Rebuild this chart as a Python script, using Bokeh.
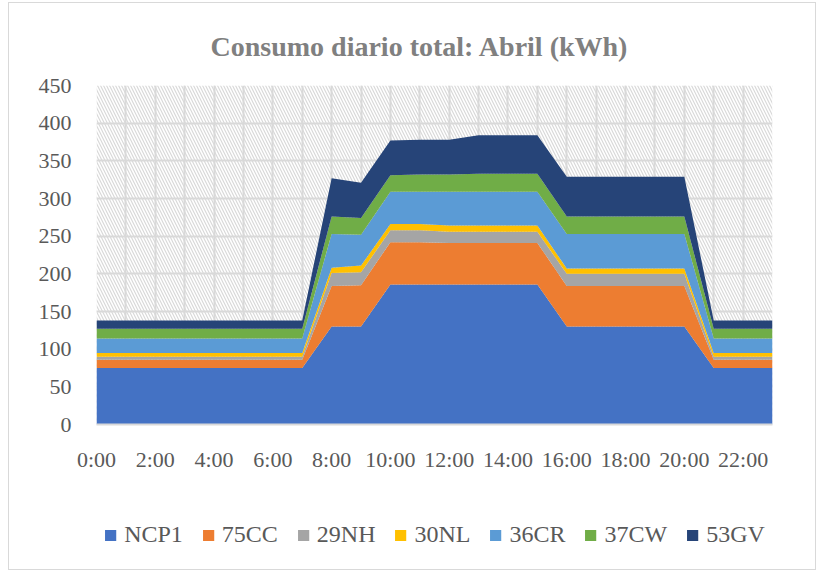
from bokeh.plotting import figure
from bokeh.layouts import column
from bokeh.models import (FixedTicker, BoxAnnotation, Legend, LegendItem, Range1d,
                          Title, ColumnDataSource)
from bokeh.embed import file_html
from bokeh.resources import INLINE

hours = [0, 1, 2, 3, 4, 5, 6, 7, 8, 9, 10, 11, 12, 13, 14, 15, 16, 17, 18, 19, 20, 21, 22, 23]
tick_hours = [0, 2, 4, 6, 8, 10, 12, 14, 16, 18, 20, 22]
tick_labels = ["0:00", "2:00", "4:00", "6:00", "8:00", "10:00", "12:00", "14:00",
               "16:00", "18:00", "20:00", "22:00"]
y_ticks = [0, 50, 100, 150, 200, 250, 300, 350, 400, 450]

series_names = ["NCP1", "75CC", "29NH", "30NL", "36CR", "37CW", "53GV"]
ncp1 = [75, 75, 75, 75, 75, 75, 75, 75, 130, 130, 186, 186, 186, 186, 186, 186, 130, 130, 130, 130, 130, 75, 75, 75]
cc75 = [11, 11, 11, 11, 11, 11, 11, 11, 54, 55, 56, 56, 55, 55, 55, 55, 54, 54, 54, 54, 54, 11, 11, 11]
nh29 = [4, 4, 4, 4, 4, 4, 4, 4, 17, 17, 16, 16, 15, 15, 15, 15, 16, 16, 16, 16, 16, 4, 4, 4]
nl30 = [5, 5, 5, 5, 5, 5, 5, 5, 7, 9, 8, 8, 8, 8, 8, 8, 7, 7, 7, 7, 7, 5, 5, 5]
cr36 = [19, 19, 19, 19, 19, 19, 19, 19, 45, 41, 43, 43, 45, 45, 45, 45, 46, 46, 46, 46, 46, 19, 19, 19]
cw37 = [13, 13, 13, 13, 13, 13, 13, 13, 23, 22, 22, 23, 23, 24, 24, 24, 23, 23, 23, 23, 23, 13, 13, 13]
gv53 = [11, 11, 11, 11, 11, 11, 11, 11, 51, 47, 46, 46, 46, 51, 51, 51, 53, 53, 53, 53, 53, 11, 11, 11]
colors = ["#4472C4", "#ED7D31", "#A5A5A5", "#FFC000", "#5B9BD5", "#70AD47", "#264478"]

source = ColumnDataSource(data={
    "hour": hours, "NCP1": ncp1, "75CC": cc75, "29NH": nh29, "30NL": nl30,
    "36CR": cr36, "37CW": cw37, "53GV": gv53,
})

FONT = "Liberation Serif"
TXT = "#595959"

# ---- main chart ----
fig = figure(width=806, height=481, output_backend="svg", toolbar_location=None,
             x_range=Range1d(0, 23), y_range=Range1d(0, 450),
             min_border_left=87, min_border_right=43, min_border_top=82, min_border_bottom=60)
fig.outline_line_color = None
fig.background_fill_color = "white"
fig.border_fill_color = "white"

fig.title = Title(text="Consumo diario total: Abril (kWh)", align="left",
                  text_font=FONT, text_font_size="28px", text_font_style="bold",
                  text_color="#808080", standoff=48, offset=114)

bg = BoxAnnotation(fill_color="white", fill_alpha=1, hatch_pattern="left_diagonal_line",
                   hatch_color="#d9d9d9", hatch_scale=6, hatch_weight=1.2,
                   line_color=None, level="image")
fig.add_layout(bg)

renderers = fig.varea_stack(stackers=series_names, x="hour", color=colors, source=source)

fig.xgrid.ticker = FixedTicker(ticks=hours)
fig.ygrid.ticker = FixedTicker(ticks=y_ticks)
for g in (fig.xgrid, fig.ygrid):
    g.grid_line_color = "#d9d9d9"
    g.grid_line_width = 2

fig.xaxis.ticker = FixedTicker(ticks=tick_hours)
fig.xaxis.major_label_overrides = {h: l for h, l in zip(tick_hours, tick_labels)}
fig.yaxis.ticker = FixedTicker(ticks=y_ticks)
for ax in (fig.xaxis, fig.yaxis):
    ax.major_tick_line_color = None
    ax.minor_tick_line_color = None
    ax.major_tick_in = 0
    ax.major_tick_out = 0
    ax.major_label_text_font = FONT
    ax.major_label_text_font_size = "22px"
    ax.major_label_text_color = TXT
fig.xaxis.axis_line_color = "#d9d9d9"
fig.xaxis.axis_line_width = 2
fig.yaxis.axis_line_color = None
fig.xaxis.major_label_standoff = 22
fig.yaxis.major_label_standoff = 25

# ---- legend strip (same series, drawn off-range so only the legend shows) ----
leg = figure(width=806, height=85, output_backend="svg", toolbar_location=None,
             x_range=Range1d(100, 101), y_range=Range1d(0, 1),
             x_axis_type=None, y_axis_type=None, min_border=0)
leg.outline_line_color = None
leg.background_fill_color = "white"
leg.border_fill_color = "white"
leg_renderers = leg.varea_stack(stackers=series_names, x="hour", color=colors, source=source)

legend = Legend(items=[LegendItem(label=n, renderers=[r]) for n, r in zip(series_names, leg_renderers)],
                orientation="horizontal", location="bottom_center",
                label_text_font=FONT, label_text_font_size="24px", label_text_color=TXT,
                glyph_width=14, glyph_height=14, label_standoff=7, spacing=18,
                border_line_color=None, background_fill_alpha=0,
                padding=2, margin=21)
leg.add_layout(legend, "center")

p = column(fig, leg, spacing=0)
p.styles = {"border": "1px solid #d9d9d9", "margin-left": "8px", "margin-top": "2px"}

open("out.html", "w").write(file_html(p, INLINE))
